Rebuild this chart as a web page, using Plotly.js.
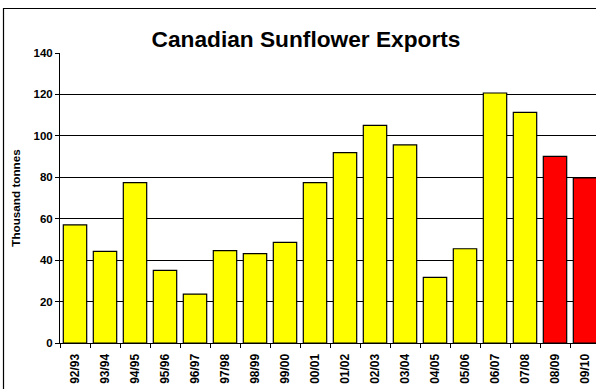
<!DOCTYPE html>
<html>
<head>
<meta charset="utf-8">
<script src="https://cdn.plot.ly/plotly-3.0.1.min.js"></script>
<style>
html,body{margin:0;padding:0;overflow:hidden;background:#fff;}
#chart{width:604px;height:395px;}
</style>
</head>
<body>
<div id="chart"></div>
<script>
const seasons = ["92/93","93/94","94/95","95/96","96/97","97/98","98/99","99/00","00/01","01/02","02/03","03/04","04/05","05/06","06/07","07/08","08/09","09/10"];
const exports = [57.0,44.2,77.4,35.1,23.6,44.6,43.1,48.6,77.4,91.9,105.1,95.6,31.7,45.5,120.7,111.3,90.1,79.7];
const barColors = ["#FFFF00","#FFFF00","#FFFF00","#FFFF00","#FFFF00","#FFFF00","#FFFF00","#FFFF00","#FFFF00","#FFFF00","#FFFF00","#FFFF00","#FFFF00","#FFFF00","#FFFF00","#FFFF00","#FF0000","#FF0000"];
const yTicks = [0,20,40,60,80,100,120,140];

const W = 604, H = 395;
const L = 60, R = 4, T = 53, B = 52;
const pw = W - L - R, ph = H - T - B;
const px = v => (v - L) / pw;
const py = v => (H - B - v) / ph;

const font = "Liberation Sans, Arial, sans-serif";

Plotly.newPlot("chart", [{
  type: "bar",
  x: seasons,
  y: exports,
  marker: {color: barColors, line: {color: "#000", width: 1.2}},
  hoverinfo: "x+y"
}], {
  width: W, height: H,
  margin: {l: L, r: R, t: T, b: B, pad: 0},
  paper_bgcolor: "#fff",
  plot_bgcolor: "#fff",
  bargap: 0.22,
  showlegend: false,
  font: {family: font, color: "#000"},
  title: {
    text: "<b>Canadian Sunflower Exports</b>",
    font: {family: font, size: 22.7, color: "#000"},
    xref: "container", yref: "container",
    x: 306 / W, xanchor: "center",
    y: 1 - 39 / H, yanchor: "middle"
  },
  xaxis: {
    type: "category",
    tickangle: -90,
    tickfont: {family: font, size: 12, color: "#000", weight: "bold"},
    ticks: "outside", ticklen: 4, tickcolor: "#000", tickwidth: 1,
    tickson: "boundaries",
    ticklabelstandoff: 5,
    showline: true, linecolor: "#000", linewidth: 1,
    showgrid: false, zeroline: false,
    fixedrange: true
  },
  yaxis: {
    range: [0, 140],
    tickvals: yTicks,
    tickfont: {family: font, size: 11.5, color: "#000", weight: "bold"},
    ticks: "outside", ticklen: 4, tickcolor: "#000", tickwidth: 1,
    showline: true, linecolor: "#000", linewidth: 1,
    showgrid: true, gridcolor: "#000", gridwidth: 1,
    zeroline: false,
    title: {text: "<b>Thousand tonnes</b>", font: {family: font, size: 11.7, color: "#000"}, standoff: 10},
    fixedrange: true
  },
  shapes: [{
    type: "rect", xref: "paper", yref: "paper", layer: "above",
    x0: px(3.5), x1: px(620), y0: py(420), y1: py(8.5),
    line: {color: "#000", width: 1.2}, fillcolor: "rgba(0,0,0,0)"
  }]
}, {displayModeBar: false, staticPlot: true});
</script>
</body>
</html>
